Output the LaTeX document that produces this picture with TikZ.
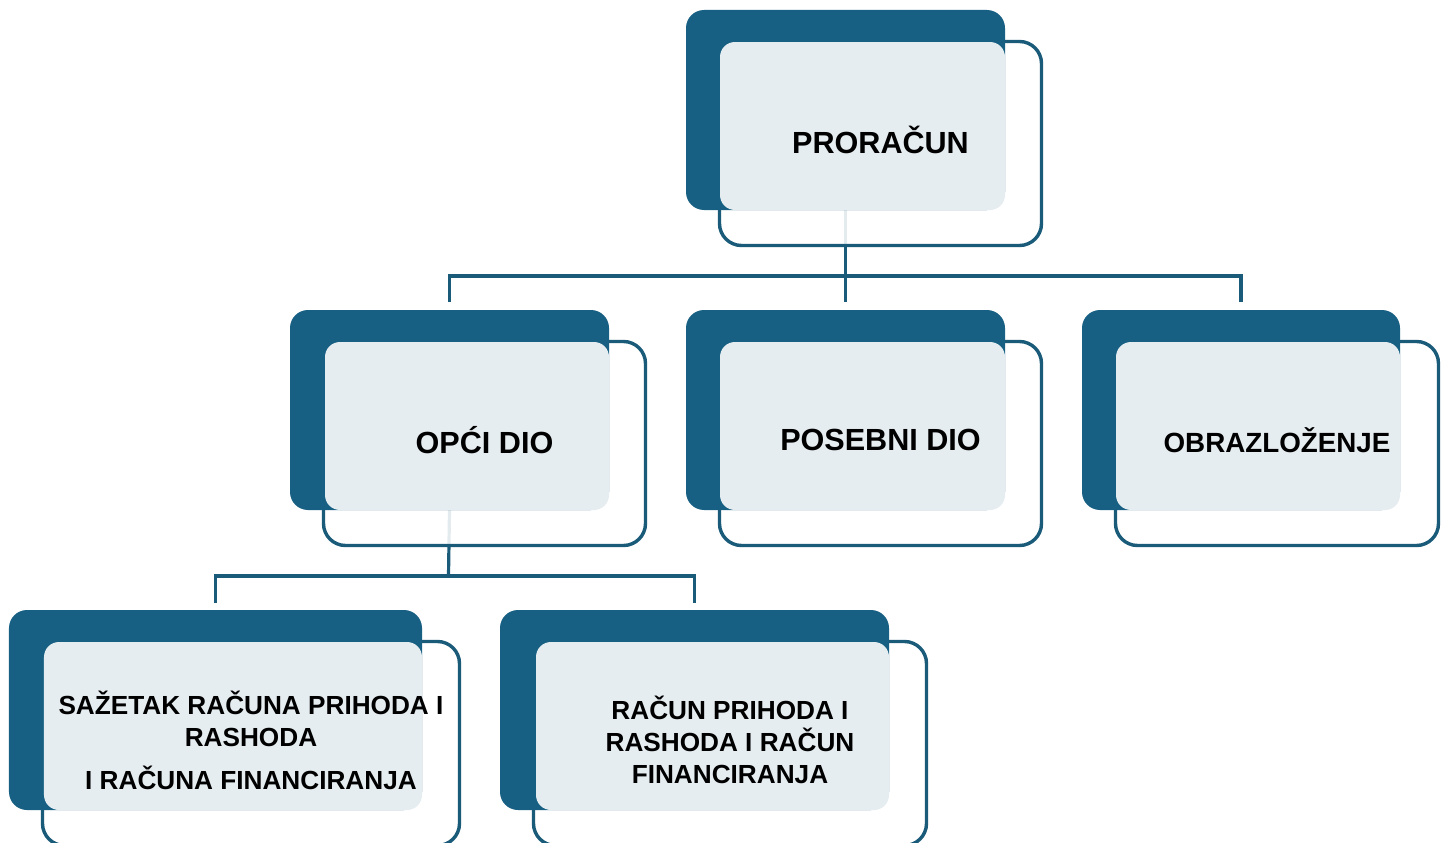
\documentclass[tikz,border=0pt]{standalone}
\usepackage{fontspec}
\setmainfont{Liberation Sans}
\usetikzlibrary{calc, positioning}
\definecolor{petrol}{HTML}{186083}
\definecolor{petrolline}{HTML}{1B5B7A}
\definecolor{mist}{HTML}{E6EDF1}
\pgfdeclarelayer{background}
\pgfsetlayers{background,main}
\tikzstyle{frame_box}=[rectangle, draw=petrolline, line width=0.034cm, fill=white, fill opacity=0.88,
   rounded corners=0.22cm, minimum height=2.04cm, inner sep=0, outer sep=0]
\tikzstyle{back_box}=[rectangle, fill=petrol, rounded corners=0.18cm, minimum height=2cm,
   inner sep=0, outer sep=0]
\tikzstyle{face_box}=[rectangle, fill=mist, rounded corners=0.15cm, minimum height=1.68cm,
   inner sep=0, outer sep=0, anchor=south east]
\tikzstyle{box_text}=[align=center, inner sep=0, yshift=0.035cm, font=\bfseries\fontsize{8.7}{10.4}\selectfont]
\tikzstyle{small_text}=[align=center, inner sep=0, yshift=0.035cm, font=\bfseries\fontsize{7.45}{9.1}\selectfont]
\tikzstyle{link}=[draw=petrolline, line width=0.032cm]

\begin{document}
\begin{tikzpicture}

\path[use as bounding box] (0,0) rectangle (14.48,-8.43);
\clip (0,0) rectangle (14.48,-8.43);

% Proracun
\node [frame_box, minimum width=3.22cm] (proracun_frame) at (8.805,-1.435) {};
\node [back_box, minimum width=3.19cm] (proracun_back)
      [above left=0.315cm and 0.335cm of proracun_frame.north west, anchor=north west] {};
\node [face_box, minimum width=2.85cm] (proracun_face) at (proracun_back.south east) {};
\node [box_text] (proracun_text) at (proracun_frame.center) {PRORAČUN};

% Opci dio
\node [frame_box, minimum width=3.22cm] (opci_frame) at (4.845,-4.435) {};
\node [back_box, minimum width=3.19cm] (opci_back)
      [above left=0.315cm and 0.335cm of opci_frame.north west, anchor=north west] {};
\node [face_box, minimum width=2.84cm] (opci_face) at (opci_back.south east) {};
\node [box_text] (opci_text) at (opci_frame.center) {OPĆI DIO};

% Posebni dio
\node [frame_box, minimum width=3.22cm] (posebni_frame) at (8.805,-4.435) {};
\node [back_box, minimum width=3.19cm] (posebni_back)
      [above left=0.315cm and 0.335cm of posebni_frame.north west, anchor=north west] {};
\node [face_box, minimum width=2.85cm] (posebni_face) at (posebni_back.south east) {};
\node [box_text] (posebni_text) at (posebni_frame.center) {POSEBNI DIO};

% Obrazlozenje
\node [frame_box, minimum width=3.23cm] (obraz_frame) at (12.77,-4.435) {};
\node [back_box, minimum width=3.18cm] (obraz_back)
      [above left=0.315cm and 0.335cm of obraz_frame.north west, anchor=north west] {};
\node [face_box, minimum width=2.84cm] (obraz_face) at (obraz_back.south east) {};
\node [box_text, font=\bfseries\fontsize{7.9}{9.5}\selectfont] (obraz_text)
      at (obraz_frame.center) {OBRAZLOŽENJE};

% Sazetak
\node [frame_box, minimum width=4.17cm] (sazetak_frame) at (2.51,-7.435) {};
\node [back_box, minimum width=4.13cm] (sazetak_back)
      [above left=0.315cm and 0.335cm of sazetak_frame.north west, anchor=north west] {};
\node [face_box, minimum width=3.78cm] (sazetak_face) at (sazetak_back.south east) {};
\node [small_text] (sazetak_text) at (sazetak_frame.center)
      {SAŽETAK RAČUNA PRIHODA I\\RASHODA\\[3.1pt]I RAČUNA FINANCIRANJA};

% Racun prihoda i rashoda
\node [frame_box, minimum width=3.93cm] (racun_frame) at (7.30,-7.435) {};
\node [back_box, minimum width=3.89cm] (racun_back)
      [above left=0.315cm and 0.335cm of racun_frame.north west, anchor=north west] {};
\node [face_box, minimum width=3.53cm] (racun_face) at (racun_back.south east) {};
\node [small_text] (racun_text) at (racun_frame.center)
      {RAČUN PRIHODA I\\RASHODA I RAČUN\\FINANCIRANJA};

% connectors, kept under the boxes
\coordinate (bus_main) at (8.455,-2.76);
\coordinate (bus_opci) at (4.485,-5.76);
\begin{pgfonlayer}{background}
\draw[link, shorten >=0.08cm] (proracun_back.south) -- (posebni_back.north);
\draw[link, shorten <=0.08cm, shorten >=0.08cm] (opci_back.north) |- (bus_main) -| (obraz_back.north);
\draw[link] (opci_back.south) -- (bus_opci);
\draw[link, shorten <=0.07cm, shorten >=0.07cm] (sazetak_back.north) |- (bus_opci) -| (racun_back.north);
\end{pgfonlayer}

\end{tikzpicture}
\end{document}
